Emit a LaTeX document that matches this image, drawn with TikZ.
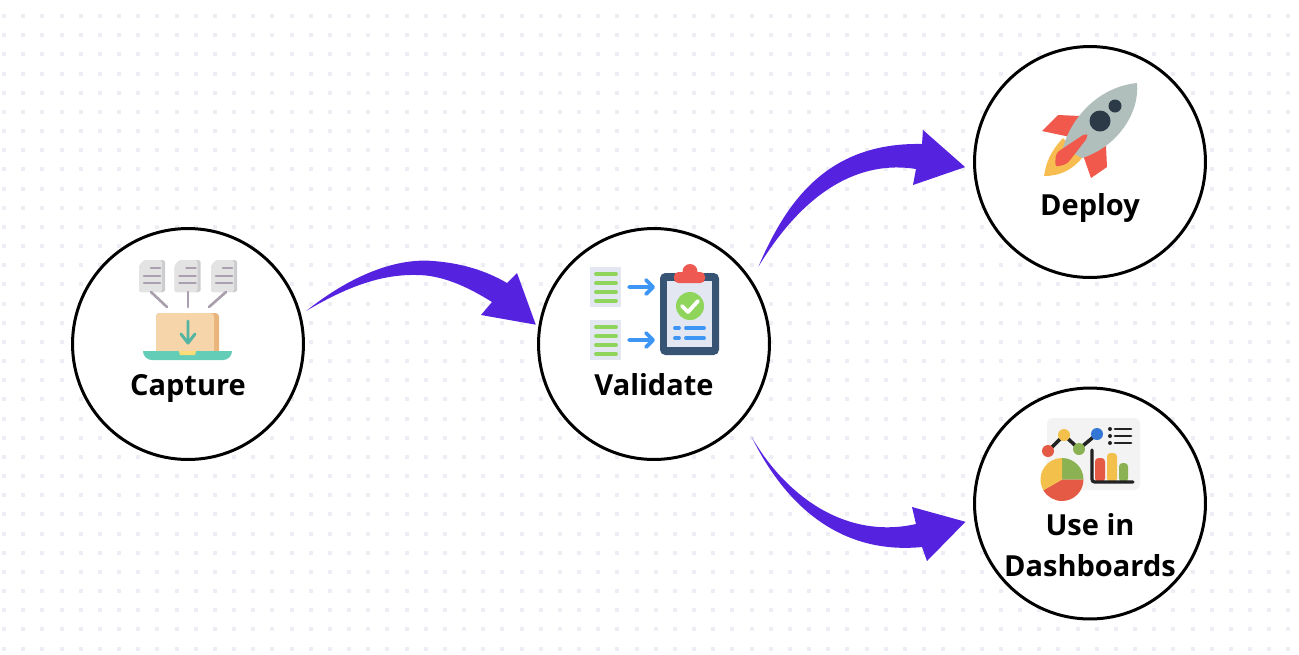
\documentclass[tikz,border=0pt]{standalone}
\usepackage{fontspec}
\setmainfont{Open Sans}
\definecolor{flowviolet}{HTML}{5522E0}
\definecolor{griddotgray}{HTML}{EDEEF4}
\definecolor{sheetgray}{HTML}{E3E3E3}
\definecolor{sheetedge}{HTML}{CDCDCF}
\definecolor{mauvegray}{HTML}{A99FAE}
\definecolor{laptopsand}{HTML}{F6D5AA}
\definecolor{laptopedge}{HTML}{E9B57C}
\definecolor{laptopteal}{HTML}{64CDB7}
\definecolor{arrowteal}{HTML}{55B5A3}
\definecolor{notchyellow}{HTML}{FBDC76}
\definecolor{formgray}{HTML}{E3E7F1}
\definecolor{formgreen}{HTML}{8FD45B}
\definecolor{formblue}{HTML}{3E96F4}
\definecolor{boardnavy}{HTML}{375475}
\definecolor{clipred}{HTML}{EE5A52}
\definecolor{hullgray}{HTML}{B0BEBC}
\definecolor{finred}{HTML}{F0594C}
\definecolor{flameyellow}{HTML}{F7BD50}
\definecolor{portdark}{HTML}{2C3A47}
\definecolor{panelgray}{HTML}{F3F3F3}
\definecolor{chartred}{HTML}{E55A44}
\definecolor{chartyellow}{HTML}{F3C04B}
\definecolor{chartgreen}{HTML}{8AB252}
\definecolor{chartblue}{HTML}{3377D6}
\definecolor{chartink}{HTML}{222222}
\begin{document}
\begin{tikzpicture}[
            x=0.02cm, y=-0.02cm,
            griddot/.style={fill=griddotgray},
            stage/.style={circle, draw=black, fill=white, line width=1.7pt, minimum size=4.62cm, inner sep=0pt},
            stagelabel/.style={font=\fontsize{16.5}{20}\selectfont\bfseries, anchor=base, text=black, inner sep=0pt},
            flowarrow/.style={fill=flowviolet}
        ]
            \useasboundingbox (0, 0) rectangle (1299, 654);
            \fill[white] (0, 0) rectangle (1299, 654);

            \foreach \i in {0,...,67} {
                \foreach \j in {0,...,33} {
                    \fill[griddot] ({2 + 19.17*\i}, {14 + 19.17*\j}) rectangle +(4, 4);
                }
            }

            \node[stage] (capture) at (188, 344) {};
            \node[stage] (validate) at (654, 344) {};
            \node[stage] (deploy) at (1090, 162) {};
            \node[stage] (dashboards) at (1090, 503.5) {};

            \fill[flowarrow] ([shift={(6, -1)}]capture.16) .. controls (355, 272) and (400, 258) .. (433, 261)
                .. controls (460, 263) and (485, 270) .. (507, 283) -- (517, 273) -- ([shift={(-3, 1)}]validate.170)
                -- (481, 315) -- (492, 302) .. controls (465, 285) and (440, 275) .. (417, 275)
                .. controls (380, 274) and (345, 288) .. cycle;
            \fill[flowarrow] ([shift={(11, -7)}]validate.37) .. controls (785, 205) and (825, 142) .. (922, 144)
                -- (923, 130) -- ([shift={(-8, 1)}]deploy.182) -- (913, 185) -- (916, 169)
                .. controls (860, 160) and (805, 190) .. cycle;
            \fill[flowarrow] ([shift={(12, 13)}]validate.-43) .. controls (785, 495) and (845, 540) .. (916, 524)
                -- (912, 507) -- ([shift={(-9, 0)}]dashboards.189) -- (927, 561) -- (922, 547)
                .. controls (840, 555) and (785, 505) .. cycle;

            \node[stagelabel] (capturelabel) at (188, 395.5) {Capture};
            \node[stagelabel] (validatelabel) at (654, 395.5) {Validate};
            \node[stagelabel] (deploylabel) at (1090, 215) {Deploy};
            \node[stagelabel] (uselabel) at (1090, 535) {Use in};
            \node[stagelabel] (dashboardslabel) at (1090, 576) {Dashboards};

            % capture icon
            \foreach \x in {139, 174.5, 211} {
                \fill[sheetedge, rounded corners=1pt] ({\x + 5}, 260) -- ({\x + 26}, 260) -- ({\x + 26}, 292) -- (\x, 292) -- (\x, 266) -- cycle;
                \fill[sheetgray, rounded corners=1pt] ({\x + 5}, 260) -- ({\x + 23}, 260) -- ({\x + 23}, 292) -- (\x, 292) -- (\x, 266) -- cycle;
                \draw[mauvegray, line width=1.6pt, line cap=round] ({\x + 12}, 268) -- ({\x + 21}, 268);
                \draw[mauvegray, line width=1.6pt, line cap=round] ({\x + 5}, 276) -- ({\x + 21}, 276);
                \draw[mauvegray, line width=1.6pt, line cap=round] ({\x + 5}, 283) -- ({\x + 21}, 283);
            }
            \draw[mauvegray, line width=1.5pt, line cap=round] (151, 292) -- (167, 307);
            \draw[mauvegray, line width=1.5pt, line cap=round] (188, 292) -- (188, 307);
            \draw[mauvegray, line width=1.5pt, line cap=round] (226, 292) -- (209, 307);
            \fill[laptopedge, rounded corners=2pt] (156, 313) rectangle (219, 355);
            \fill[laptopsand, rounded corners=2pt] (156, 313) rectangle (214, 355);
            \draw[arrowteal, line width=1.7pt, line cap=round, line join=round] (188, 321) -- (188, 343) (181, 334) -- (188, 343) -- (195, 334);
            \fill[laptopteal] (143, 351) -- (232, 351) .. controls (232, 356) and (228, 360) .. (223, 360) -- (152, 360) .. controls (147, 360) and (143, 356) .. (143, 351);
            \fill[notchyellow] (179, 351) -- (196, 351) -- (195, 355) -- (180, 355) -- cycle;

            % validate icon
            \foreach \y in {267, 320} {
                \fill[formgray] (590, \y) rectangle (621, {\y + 40});
                \foreach \k in {7, 16, 25, 34} {
                    \draw[formgreen, line width=2.2pt, line cap=round] (596, {\y + \k}) -- (616, {\y + \k});
                }
                \draw[formblue, line width=2.2pt, line cap=round, line join=round] (629, {\y + 20}) -- (653, {\y + 20}) (646, {\y + 13}) -- (653, {\y + 20}) -- (646, {\y + 27});
            }
            \fill[boardnavy, rounded corners=3pt] (660, 273) rectangle (719, 355);
            \fill[formgray] (667, 281) rectangle (712, 347);
            \fill[clipred] (690, 271.5) circle (7.5);
            \fill[clipred, rounded corners=2.5pt] (674, 272) rectangle (705, 283);
            \fill[formgreen] (690, 306) circle (14);
            \draw[white, line width=2.2pt, line cap=round, line join=round] (682, 306) -- (688, 312) -- (698, 301);
            \foreach \y in {328, 338} {
                \draw[formblue, line width=2.2pt, line cap=round] (675, \y) -- (679, \y);
                \draw[formblue, line width=2.2pt, line cap=round] (686, \y) -- (704, \y);
            }

            % deploy icon
            \fill[finred] (1080, 116) -- (1058, 115) -- (1042, 131) -- (1075, 138) -- cycle;
            \fill[finred] (1083, 155) -- (1091, 178) -- (1107, 167) -- (1106, 146) -- cycle;
            \fill[flameyellow] (1063, 138) .. controls (1050, 152) and (1046, 163) .. (1044, 176) .. controls (1060, 176) and (1072, 170) .. (1082, 158) -- cycle;
            \fill[hullgray] (1137, 83) .. controls (1097, 87) and (1070, 120) .. (1063, 148) -- (1082, 158) .. controls (1117, 147) and (1140, 113) .. cycle;
            \fill[finred, rounded corners=2pt] (1086, 133) -- (1056, 153) -- (1055, 167) -- (1067, 164) -- (1088, 137) -- cycle;
            \fill[portdark] (1100, 121) circle (10.5);
            \fill[portdark] (1115, 106) circle (6.5);

            % dashboards icon
            \fill[panelgray, rounded corners=3pt] (1047, 418) rectangle (1140, 490);
            \draw[chartink, line width=2pt] (1048, 451) -- (1064, 435) -- (1079, 449) -- (1097, 434);
            \fill[chartred] (1048, 451) circle (6);
            \fill[chartyellow] (1064, 435) circle (6);
            \fill[chartgreen] (1079, 449) circle (6);
            \fill[chartblue] (1097, 434) circle (6);
            \foreach \y in {429, 436, 443} {
                \fill[chartink] (1110, \y) circle (2);
                \draw[chartink, line width=1.6pt, line cap=round] (1115, \y) -- (1131, \y);
            }
            \fill[chartred, rounded corners=2pt] (1095, 458) rectangle (1105, 482);
            \fill[chartyellow, rounded corners=2pt] (1107, 453) rectangle (1117, 482);
            \fill[chartgreen, rounded corners=2pt] (1119, 463) rectangle (1128, 482);
            \draw[chartink, line width=1.8pt, line cap=round, rounded corners=1.5pt] (1092, 450) -- (1092, 482) -- (1133, 482);
            \fill[chartgreen] (1062, 479.5) -- (1083.5, 479.5) arc[start angle=0, end angle=-90, radius=21.5] -- cycle;
            \fill[chartred] (1062, 479.5) -- (1083.5, 479.5) arc[start angle=0, end angle=150, radius=21.5] -- cycle;
            \fill[chartyellow] (1062, 479.5) -- ({1062 + 21.5*cos(150)}, {479.5 + 21.5*sin(150)}) arc[start angle=150, end angle=270, radius=21.5] -- cycle;
        \end{tikzpicture}
\end{document}
